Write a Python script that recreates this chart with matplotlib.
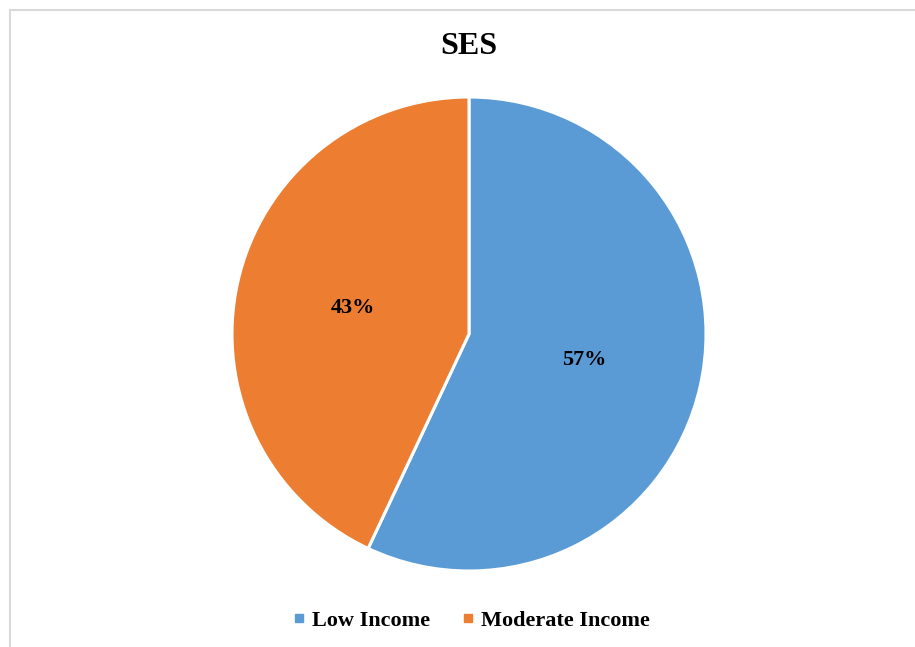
import matplotlib
matplotlib.use("Agg")
import matplotlib.pyplot as plt
from matplotlib.patches import Rectangle
from matplotlib.lines import Line2D

categories = ["Low Income", "Moderate Income"]
shares = [57, 43]
colors = ["#5B9BD5", "#ED7D31"]
title = "SES"

plt.rcParams["font.family"] = ["Liberation Serif", "DejaVu Serif"]

W, H = 915, 647
fig = plt.figure(figsize=(W / 100, H / 100), dpi=100)
fig.patch.set_facecolor("white")

# chart frame (runs off the right and bottom edges)
fig.add_artist(Rectangle((10 / W, -0.05), 1.2, 1 - 10 / H + 0.05,
                         transform=fig.transFigure, fill=False,
                         edgecolor="#D9D9D9", linewidth=1.5))

cx, cy, r = 469, 334, 237
ax = fig.add_axes([(cx - r) / W, (H - cy - r) / H, 2 * r / W, 2 * r / H])
wedges, texts, autotexts = ax.pie(
    shares, colors=colors, startangle=90, counterclock=False,
    autopct=lambda p: f"{p:.0f}%", pctdistance=0.5,
    wedgeprops=dict(edgecolor="white", linewidth=2.2),
    textprops=dict(fontsize=16, fontweight="bold", color="black"),
)
ax.set_aspect("equal")
ax.set_xlim(-1, 1)
ax.set_ylim(-1, 1)

fig.text(469 / W, 1 - 47 / H, title, ha="center", va="center",
         fontsize=23, fontweight="bold")

handles = [Line2D([0], [0], marker="s", linestyle="none", markersize=6,
                  markerfacecolor=c, markeredgecolor=c) for c in colors]
fig.legend(handles, categories, loc="center", bbox_to_anchor=(471 / W, 1 - 621 / H),
           ncol=2, frameon=False, prop=dict(size=16, weight="bold"),
           handlelength=0.6, handletextpad=0.3, columnspacing=1.4)

fig.savefig("out.png", dpi=100, facecolor="white")
